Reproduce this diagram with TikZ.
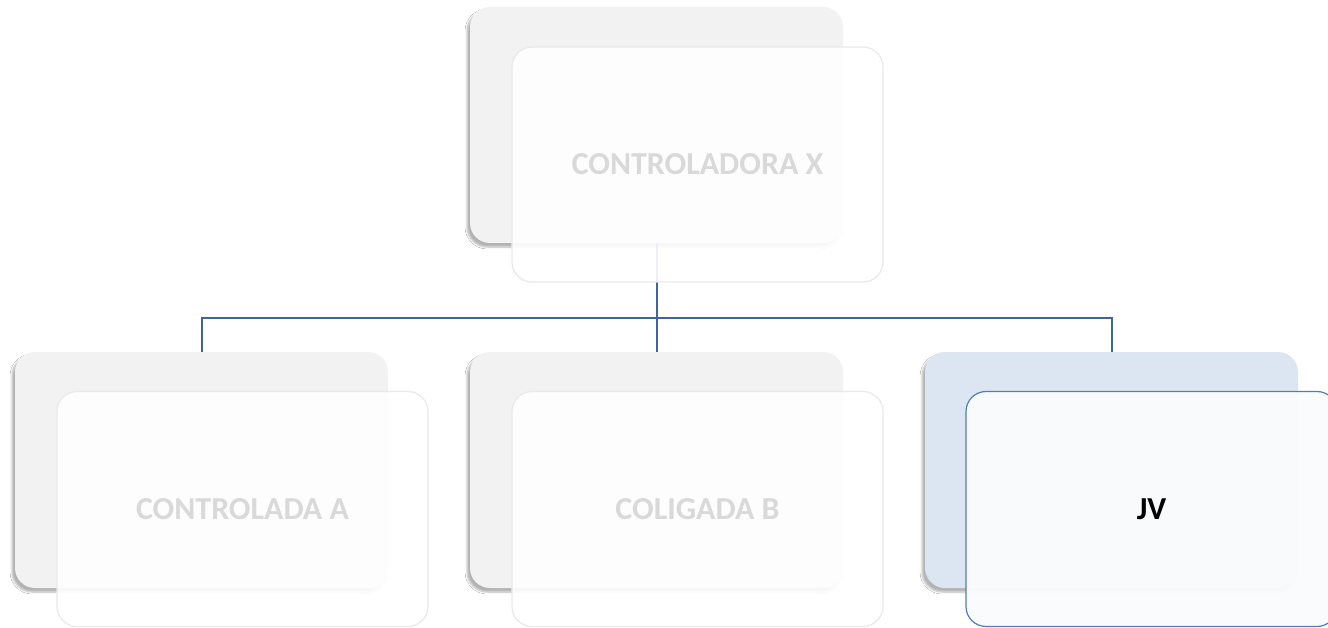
\documentclass[tikz,border=0pt]{standalone}
\usepackage{fontspec}
\setmainfont{Carlito}
\usetikzlibrary{shadows.blur}
\definecolor{backgray}{HTML}{F2F2F2}
\definecolor{frontedge}{HTML}{E9E9E9}
\definecolor{txtgray}{HTML}{D9D9D9}
\definecolor{linkblue}{HTML}{41659B}
\definecolor{jvback}{HTML}{DCE6F2}
\definecolor{jvfront}{HTML}{FAFBFD}
\definecolor{jvedge}{HTML}{4F7DBA}
\tikzset{
  backbox/.style={draw=none, fill=backgray, rounded corners=20pt, minimum width=373pt, minimum height=236pt, inner sep=0pt,
    blur shadow={shadow xshift=-3pt, shadow yshift=-4pt, shadow blur steps=6, shadow opacity=30}},
  frontbox/.style={draw=frontedge, line width=1.2pt, fill=white, fill opacity=0.9, text opacity=1, rounded corners=20pt, minimum width=371pt, minimum height=235pt, inner sep=0pt,
    font=\fontsize{32pt}{38pt}\selectfont\bfseries, text=txtgray},
  link/.style={draw=linkblue, line width=2pt}
}
\begin{document}
\begin{tikzpicture}[x=1pt,y=-1pt]
\useasboundingbox[fill=white] (0,0) rectangle (1328,628);
% back boxes
\node[backbox] (bx) at (656.5,125) {};
\node[backbox] (ba) at (201.5,470) {};
\node[backbox] (bb) at (656.5,470) {};
\node[backbox, fill=jvback] (bj) at (1111.5,470) {};
% connectors
\coordinate (bus) at (656.5,318);
\draw[link] (bx.south) -- (bus);
\draw[link] (bus) -| (ba.north);
\draw[link] (bus) -- (bb.north);
\draw[link] (bus) -| (bj.north);
% front boxes
\node[frontbox] (fx) at (697.5,164.5) {CONTROLADORA X};
\node[frontbox] (fa) at (242.5,509) {CONTROLADA A};
\node[frontbox] (fb) at (697.5,509) {COLIGADA B};
\node[frontbox, draw=jvedge, fill=jvfront, fill opacity=0.96, text=black] (fj) at (1151.5,509) {JV};
\end{tikzpicture}
\end{document}
